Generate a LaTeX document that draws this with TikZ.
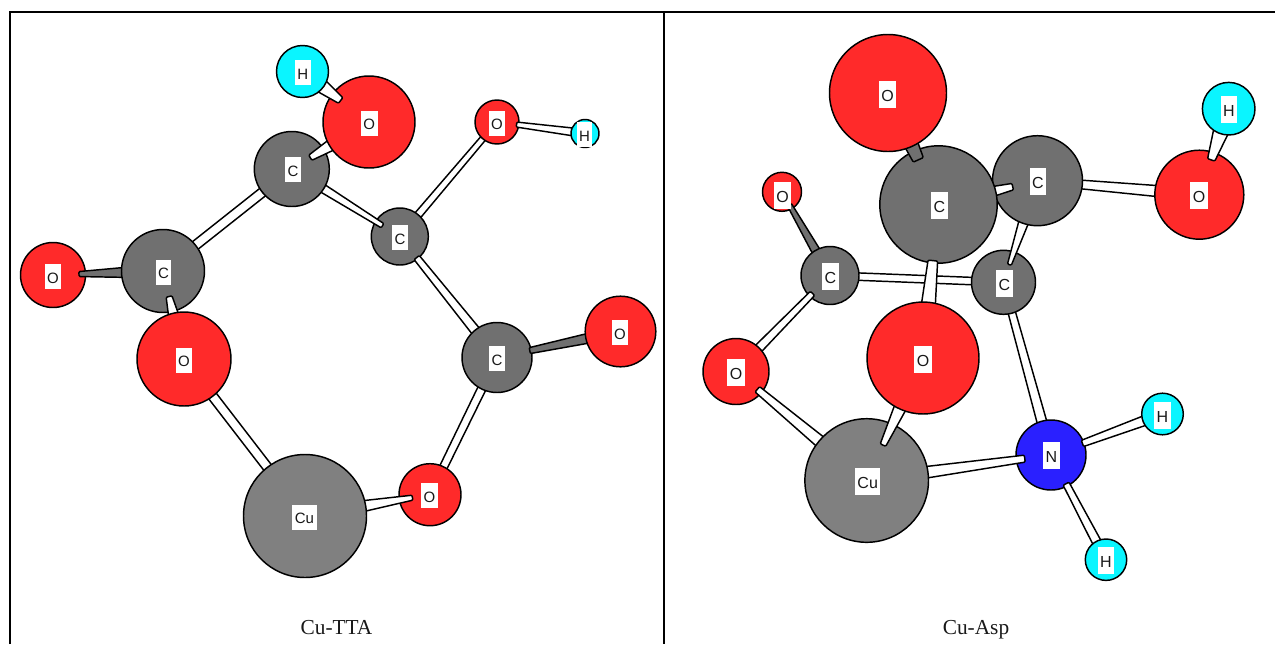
\documentclass[tikz,border=0pt]{standalone}
\usepackage{fontspec}
\setmainfont{Liberation Serif}
\newfontfamily\lblfont{Liberation Sans}
\usetikzlibrary{calc}
\definecolor{oxy}{RGB}{255,42,42}
\definecolor{carb}{RGB}{112,112,112}
\definecolor{copp}{RGB}{128,128,128}
\definecolor{hyd}{RGB}{10,245,255}
\definecolor{nitr}{RGB}{42,32,255}
\tikzset{
  atomc/.style={circle,draw=black,line width=1.1pt,inner sep=0pt,outer sep=0pt},
  bondw/.style={draw=black,fill=white,line width=1.1pt,line join=round,rounded corners=0.8pt},
  bondg/.style={draw=black,fill=carb,line width=1.1pt,line join=round,rounded corners=0.8pt},
  lblbase/.style={fill=white,inner xsep=1.9pt,inner ysep=0pt,outer sep=0pt,text=black!90},
  lblL/.style={lblbase,text height=14.45pt,text depth=4.3pt,font=\lblfont\fontsize{11.25}{12}\selectfont},
  lblR/.style={lblbase,text height=15.5pt,text depth=4.75pt,font=\lblfont\fontsize{12}{13}\selectfont},
  capt/.style={inner sep=0pt,anchor=base,font=\fontsize{16}{17}\selectfont,text=black!90},
  frameline/.style={draw=black,line width=1.6pt}
}
% \atom{name}{colour}{radius}: the disc of an atom, at its declared position
\newcommand{\atom}[3]{\node[atomc,fill=#2,minimum size={2*#3*0.75pt}] (#1) at (#1) {};}
% \bond{style}{a}{b}{dist from a}{half width at a}{dist from b}{half width at b}
\newcommand{\bond}[7]{%
  \coordinate (bp) at ($(#2.center)!#4*0.75pt!(#3.center)$);
  \coordinate (bq) at ($(#3.center)!#6*0.75pt!(#2.center)$);
  \path[#1] ($(bp)!#5*0.75pt!90:(bq)$) -- ($(bq)!#7*0.75pt!-90:(bp)$) -- ($(bq)!#7*0.75pt!90:(bp)$) -- ($(bp)!#5*0.75pt!-90:(bq)$) -- cycle;}
% \lbl{style}{atom}{dx}{dy}{text}
\newcommand{\lbl}[5]{\node[#1] (l#2) at ($(#2.center)+(#3,#4)$) {#5};}
\begin{document}
\begin{tikzpicture}[x=0.75pt,y=-0.75pt]
\useasboundingbox (0,0) rectangle (1275,644);
\draw[frameline] (10.3,644) -- (10.3,12) -- (1275,12);
\draw[frameline] (664,12) -- (664,644);
% positions of the atoms
\coordinate (C3) at (399.8,236.5);
\coordinate (O4) at (497,122);
\coordinate (H2) at (585,133.5);
\coordinate (C1) at (291.8,169);
\coordinate (C2) at (163,271);
\coordinate (C4) at (497,357.5);
\coordinate (O6) at (430,494.7);
\coordinate (O2) at (53,275);
\coordinate (O3) at (184,359);
\coordinate (O1) at (369,122);
\coordinate (H1) at (302.5,71.5);
\coordinate (Cu) at (305,516);
\coordinate (O5) at (620.5,331.5);
\coordinate (O9) at (782,191.8);
\coordinate (C7) at (830,275.5);
\coordinate (C8) at (1003.5,282.3);
\coordinate (C6) at (1037.5,180.7);
\coordinate (C5) at (938.5,204.5);
\coordinate (O7) at (888,93);
\coordinate (O8) at (1199.3,194.7);
\coordinate (H3) at (1228.7,108.7);
\coordinate (O10) at (923,358);
\coordinate (O11) at (736,371.5);
\coordinate (Cu2) at (866.7,480.5);
\coordinate (N) at (1051,455);
\coordinate (H4) at (1162.5,414);
\coordinate (H5) at (1106,559.7);
% ---------- Cu-TTA ----------
\bond{bondw}{C3}{O4}{25}{3.7}{19}{2.9}
\atom{O4}{oxy}{22}
\atom{C3}{carb}{28.5}
\bond{bondw}{O4}{H2}{19.7}{2.5}{11}{3.9}
\atom{H2}{hyd}{14}
\bond{bondw}{C3}{C1}{20.4}{2.5}{34}{4.3}
\bond{bondw}{C3}{C4}{27}{3.3}{32}{4.7}
\bond{bondw}{C2}{C1}{38}{4.7}{34}{4.7}
\atom{O2}{oxy}{32.5}
\bond{bondg}{O2}{C2}{26}{2.5}{38}{5}
\atom{C1}{carb}{37.5}
\atom{C2}{carb}{41.5}
\bond{bondw}{C1}{O1}{21.7}{3}{43}{5.8}
\atom{O1}{oxy}{46}
\bond{bondw}{O1}{H1}{35.6}{3.5}{23}{7}
\atom{H1}{hyd}{26}
\bond{bondw}{C2}{O3}{26.2}{3}{44}{5.2}
\bond{bondw}{O3}{Cu}{44}{4.7}{58}{4.7}
\atom{O3}{oxy}{47}
\bond{bondw}{O6}{C4}{28}{3.9}{32}{4.2}
\atom{O6}{oxy}{31}
\bond{bondw}{O6}{Cu}{17.8}{2.5}{58}{5.5}
\atom{Cu}{copp}{61.5}
\atom{C4}{carb}{35}
\bond{bondg}{C4}{O5}{33.5}{3}{32}{4.9}
\atom{O5}{oxy}{35.3}
% ---------- Cu-Asp ----------
\atom{O9}{oxy}{19.5}
\bond{bondg}{O9}{C7}{14.6}{2.3}{26}{4.3}
\bond{bondw}{C7}{C8}{26}{3.7}{29}{3.7}
\bond{bondw}{C8}{N}{29}{3.7}{32}{4.9}
\atom{C7}{carb}{29}
\bond{bondw}{C7}{O11}{25}{3}{30}{4.4}
\atom{O11}{oxy}{33}
\bond{bondw}{O11}{Cu2}{27.8}{3.5}{58}{5.9}
\atom{C8}{carb}{32}
\bond{bondw}{C8}{C6}{18.6}{2}{42}{5}
\bond{bondw}{C6}{O8}{42}{4.3}{41}{5.5}
\atom{O8}{oxy}{44.5}
\bond{bondw}{O8}{H3}{36.8}{3.8}{23}{7.7}
\atom{H3}{hyd}{26.3}
\atom{C6}{carb}{45}
\bond{bondw}{C6}{C5}{25.5}{3.3}{55}{5}
\atom{C5}{carb}{58.7}
\bond{bondg}{C5}{O7}{49}{5.5}{55}{7}
\atom{O7}{oxy}{58.5}
\atom{N}{nitr}{35}
\bond{bondw}{N}{Cu2}{26.5}{3.5}{58}{5.8}
\bond{bondw}{N}{H4}{33.5}{3.3}{18}{4.9}
\bond{bondw}{N}{H5}{32.4}{3.3}{18}{4.5}
\atom{H4}{hyd}{20.8}
\atom{H5}{hyd}{20.7}
\atom{Cu2}{copp}{61.8}
\bond{bondw}{Cu2}{O10}{39}{3}{53}{6.2}
\bond{bondw}{C5}{O10}{56.4}{4.8}{53}{7}
\atom{O10}{oxy}{56}
% ---------- labels ----------
\lbl{lblL}{H1}{0.3}{1}{H}
\lbl{lblL}{O1}{0.3}{1.2}{O}
\lbl{lblL}{C1}{1.2}{0.5}{C}
\lbl{lblL}{C2}{0.5}{1.2}{C}
\lbl{lblL}{O2}{0}{1.5}{O}
\lbl{lblL}{O3}{0}{1.2}{O}
\lbl{lblL}{C3}{0.2}{1.2}{C}
\lbl{lblL}{O4}{0}{1.2}{O}
\lbl{lblL}{H2}{-0.5}{1.2}{H}
\lbl{lblL}{C4}{0}{1.2}{C}
\lbl{lblL}{O5}{-0.5}{1.2}{O}
\lbl{lblL}{O6}{-0.5}{1.2}{O}
\lbl{lblL}{Cu}{-0.5}{1.2}{Cu}
\lbl{lblR}{O7}{-0.5}{1}{O}
\lbl{lblR}{C5}{1}{1}{C}
\lbl{lblR}{C6}{0.5}{0.8}{C}
\lbl{lblR}{O8}{-0.3}{1}{O}
\lbl{lblR}{H3}{0.3}{0.6}{H}
\lbl{lblR}{O9}{0.5}{4}{O}
\lbl{lblR}{C7}{0.5}{1}{C}
\lbl{lblR}{C8}{1}{1.2}{C}
\lbl{lblR}{O10}{0}{1}{O}
\lbl{lblR}{O11}{0}{1.2}{O}
\lbl{lblR}{Cu2}{1}{1}{Cu}
\lbl{lblR}{N}{0.5}{0.8}{N}
\lbl{lblR}{H4}{0}{1}{H}
\lbl{lblR}{H5}{0}{0.3}{H}
\node[capt] (capA) at (336.5,634) {Cu-TTA};
\node[capt] (capB) at (976,634) {Cu-Asp};
\end{tikzpicture}
\end{document}
